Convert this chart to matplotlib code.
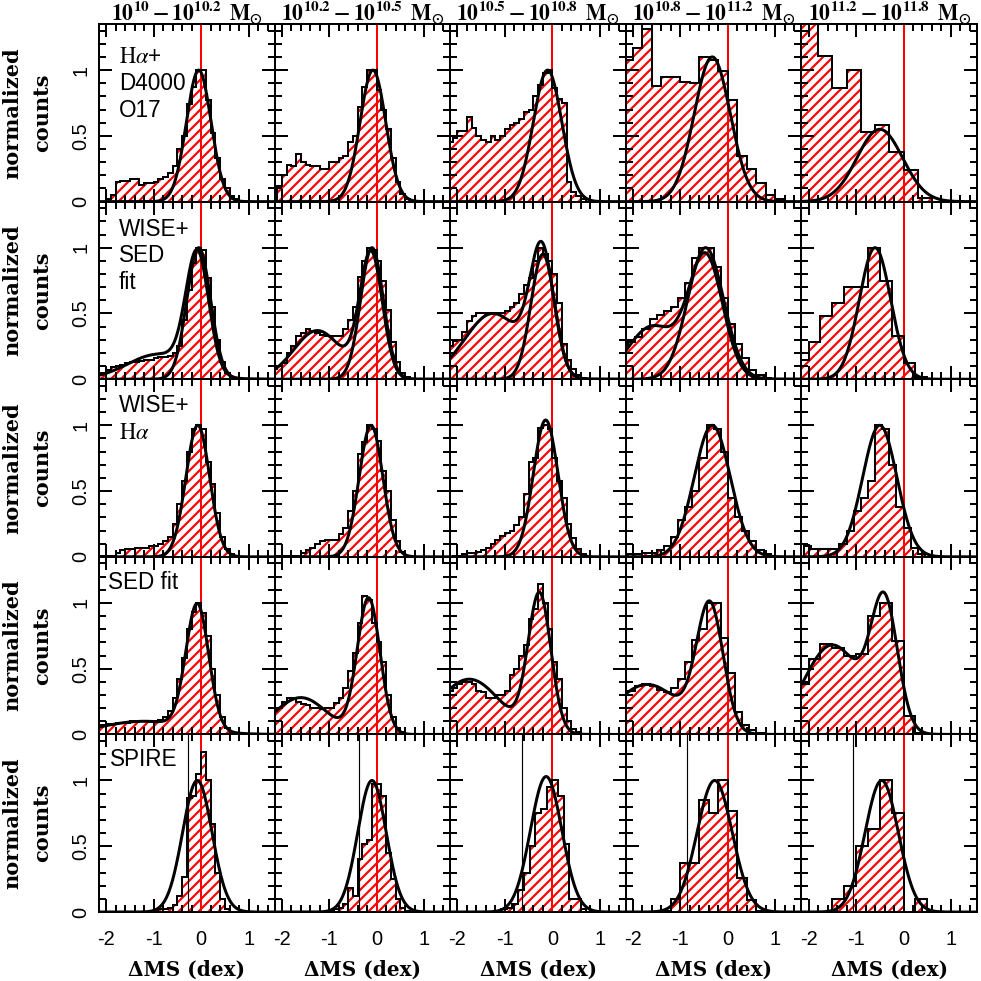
import numpy as np
import matplotlib
matplotlib.use('Agg')
import matplotlib.pyplot as plt
from matplotlib.ticker import MultipleLocator, FormatStrFormatter

plt.rcParams['font.family'] = 'Liberation Sans'
plt.rcParams['mathtext.fontset'] = 'stix'
plt.rcParams['axes.unicode_minus'] = False
plt.rcParams['hatch.linewidth'] = 1.3

# column titles (stellar mass bins) and row labels (SFR indicator)
mass_bins = [r'10^{10}-10^{10.2}', r'10^{10.2}-10^{10.5}', r'10^{10.5}-10^{10.8}',
             r'10^{10.8}-10^{11.2}', r'10^{11.2}-10^{11.8}']
row_labels = ['$\\mathrm{H}\\alpha$+\nD4000\nO17', 'WISE+\nSED\nfit', 'WISE+\n$\\mathrm{H}\\alpha$',
              'SED fit', 'SPIRE']

# first bin edge and bin width of every histogram (rows x cols)
hist_start = [[-2.0, -2.1, -2.2, -2.2, -2.4],
              [-2.2, -2.2, -2.2, -2.25, -2.25],
              [-2.1, -2.1, -2.1, -2.1, -2.1],
              [-2.2, -2.2, -2.2, -2.25, -2.25],
              [-1.0, -1.0, -1.2, -1.4, -1.5]]
hist_width = [[0.1, 0.1, 0.1, 0.2, 0.3],
              [0.1, 0.1, 0.1, 0.15, 0.25],
              [0.1, 0.1, 0.1, 0.15, 0.15],
              [0.1, 0.1, 0.1, 0.15, 0.25],
              [0.1, 0.1, 0.12, 0.2, 0.25]]

# row 1: Halpha + D4000 (O17)
h11 = [0.02, 0.05, 0.15, 0.16, 0.16, 0.17, 0.17, 0.13, 0.14, 0.14, 0.15, 0.17, 0.19, 0.22,
       0.27, 0.4, 0.5, 0.74, 0.87, 1.0, 1.0, 0.77, 0.52, 0.33, 0.17, 0.1, 0.04, 0.02]
h12 = [0.12, 0.2, 0.28, 0.27, 0.36, 0.3, 0.28, 0.27, 0.27, 0.25, 0.25, 0.3, 0.3, 0.33,
       0.35, 0.45, 0.5, 0.72, 0.87, 1.0, 1.0, 0.85, 0.7, 0.55, 0.33, 0.15, 0.06, 0.02]
h13 = [0.45, 0.48, 0.54, 0.54, 0.64, 0.56, 0.5, 0.47, 0.45, 0.5, 0.47, 0.5, 0.55, 0.58,
       0.6, 0.63, 0.68, 0.7, 0.8, 0.89, 0.98, 1.0, 0.86, 0.78, 0.75, 0.15, 0.07, 0.04, 0.02]
h14 = [1.08, 1.17, 1.31, 0.88, 0.95, 0.95, 0.91, 0.9, 1.1, 1.08, 0.99, 0.77, 0.35, 0.25,
       0.14, 0.05, 0.02]
h15 = [1.6, 1.45, 1.11, 0.86, 1.0, 0.53, 0.58, 0.38, 0.24, 0.03]

# row 2: WISE + SED fit
h21 = [0.04, 0.05, 0.07, 0.09, 0.1, 0.11, 0.12, 0.13, 0.13, 0.14, 0.15, 0.15, 0.16, 0.17,
       0.17, 0.18, 0.2, 0.25, 0.45, 0.68, 0.88, 1.0, 0.98, 0.77, 0.55, 0.3, 0.13, 0.05, 0.02, 0.01]
h22 = [0.08, 0.1, 0.12, 0.2, 0.25, 0.33, 0.35, 0.38, 0.37, 0.35, 0.34, 0.33, 0.33, 0.33,
       0.33, 0.38, 0.45, 0.55, 0.78, 0.9, 1.0, 0.98, 0.9, 0.75, 0.53, 0.28, 0.13, 0.05, 0.02]
h23 = [0.25, 0.29, 0.3, 0.36, 0.44, 0.48, 0.5, 0.5, 0.5, 0.5, 0.5, 0.5, 0.52, 0.55,
       0.58, 0.65, 0.72, 0.77, 0.9, 1.0, 0.95, 0.9, 0.8, 0.58, 0.27, 0.15, 0.08, 0.03, 0.01]
h24 = [0.26, 0.28, 0.32, 0.38, 0.46, 0.49, 0.52, 0.55, 0.62, 0.73, 0.92, 1.0, 1.0, 0.85,
       0.62, 0.42, 0.27, 0.16, 0.07, 0.03, 0.01]
h25 = [0.15, 0.28, 0.48, 0.58, 0.7, 0.7, 1.0, 0.75, 0.33, 0.12, 0.02]

# row 3: WISE + Halpha
h31 = [0.01, 0.01, 0.01, 0.03, 0.05, 0.06, 0.06, 0.07, 0.07, 0.07, 0.08, 0.08, 0.1, 0.12,
       0.15, 0.25, 0.4, 0.58, 0.8, 0.97, 1.0, 0.97, 0.72, 0.55, 0.33, 0.15, 0.06, 0.02, 0.01]
h32 = [0.01, 0.01, 0.01, 0.01, 0.01, 0.03, 0.05, 0.07, 0.1, 0.12, 0.13, 0.13, 0.13, 0.17,
       0.22, 0.35, 0.5, 0.78, 0.87, 1.0, 0.97, 0.88, 0.65, 0.5, 0.28, 0.12, 0.04, 0.01]
h33 = [0.01, 0.01, 0.02, 0.03, 0.03, 0.04, 0.05, 0.07, 0.1, 0.13, 0.16, 0.18, 0.2, 0.24,
       0.3, 0.48, 0.72, 0.75, 0.98, 1.0, 0.97, 0.75, 0.58, 0.45, 0.25, 0.14, 0.06, 0.02]
h34 = [0.02, 0.02, 0.03, 0.03, 0.05, 0.08, 0.15, 0.28, 0.38, 0.5, 0.75, 1.0, 0.97, 0.8,
       0.45, 0.3, 0.2, 0.12, 0.05, 0.02]
h35 = [0.08, 0.06, 0.06, 0.06, 0.06, 0.1, 0.2, 0.35, 0.45, 0.58, 1.0, 0.97, 0.7, 0.38,
       0.22, 0.07, 0.02]

# row 4: SED fit
h41 = [0.06, 0.07, 0.08, 0.08, 0.09, 0.09, 0.09, 0.1, 0.1, 0.1, 0.1, 0.1, 0.1, 0.11,
       0.13, 0.18, 0.28, 0.42, 0.58, 0.8, 0.93, 1.0, 0.92, 0.75, 0.5, 0.3, 0.13, 0.05, 0.02]
h42 = [0.18, 0.2, 0.25, 0.28, 0.28, 0.25, 0.23, 0.22, 0.2, 0.2, 0.19, 0.2, 0.2, 0.24,
       0.28, 0.35, 0.48, 0.62, 0.85, 1.05, 1.02, 0.85, 0.7, 0.55, 0.3, 0.13, 0.05, 0.02]
h43 = [0.33, 0.35, 0.38, 0.4, 0.4, 0.38, 0.33, 0.32, 0.28, 0.28, 0.3, 0.3, 0.33, 0.45,
       0.5, 0.6, 0.68, 0.88, 0.95, 1.14, 1.0, 0.8, 0.55, 0.42, 0.2, 0.1, 0.04, 0.02]
h44 = [0.32, 0.33, 0.37, 0.38, 0.37, 0.34, 0.32, 0.35, 0.42, 0.55, 0.72, 0.8, 1.0, 1.0,
       0.73, 0.47, 0.17, 0.07, 0.03, 0.01]
h45 = [0.38, 0.57, 0.69, 0.66, 0.6, 0.61, 0.9, 1.0, 0.71, 0.14, 0.01]

# row 5: SPIRE
h51 = [0.01, 0.02, 0.02, 0.03, 0.05, 0.12, 0.27, 0.87, 0.88, 1.05, 1.22, 1.0, 0.67, 0.3,
       0.1, 0.02]
h52 = [0.01, 0.02, 0.03, 0.06, 0.18, 0.12, 0.4, 0.52, 0.55, 0.97, 0.97, 0.88, 0.45, 0.25,
       0.1, 0.03, 0.01]
h53 = [0.01, 0.02, 0.03, 0.06, 0.17, 0.3, 0.5, 0.75, 0.78, 0.95, 1.0, 0.88, 0.52, 0.1,
       0.1, 0.02]
h54 = [0.01, 0.1, 0.37, 0.37, 0.85, 0.75, 1.0, 0.77, 0.26, 0.09, 0.01]
h55 = [0.1, 0.2, 0.5, 0.63, 1.0, 0.75, 0.0, 0.1]
spire_limit = [-0.28, -0.38, -0.64, -0.87, -1.07]

# gaussian fits: per panel a list of curves, each curve a list of (amp, mean, sigma)
fit1 = [[[(1.0, -0.05, 0.26)]],
        [[(1.0, -0.08, 0.27)]],
        [[(1.0, -0.1, 0.3)]],
        [[(1.1, -0.33, 0.38)]],
        [[(0.55, -0.5, 0.48)]]]
fit2 = [[[(0.9, -0.08, 0.24), (0.19, -0.9, 0.65)], [(1.0, -0.05, 0.25)]],
        [[(0.95, -0.12, 0.24), (0.37, -1.25, 0.5)], [(1.0, -0.1, 0.24)]],
        [[(0.93, -0.22, 0.25), (0.5, -1.25, 0.6)], [(0.95, -0.2, 0.25)]],
        [[(0.93, -0.47, 0.36), (0.4, -1.6, 0.5)], [(1.0, -0.47, 0.38)]],
        [[(1.0, -0.6, 0.33)]]]
fit3 = [[[(1.0, -0.07, 0.25)]],
        [[(1.0, -0.12, 0.25)]],
        [[(1.04, -0.14, 0.26)]],
        [[(1.0, -0.33, 0.38)]],
        [[(1.0, -0.5, 0.36)]]]
fit4 = [[[(0.95, -0.08, 0.24), (0.1, -1.2, 0.9)]],
        [[(1.03, -0.17, 0.24), (0.28, -1.6, 0.55)]],
        [[(1.05, -0.27, 0.24), (0.42, -1.75, 0.65)]],
        [[(0.95, -0.38, 0.28), (0.38, -1.7, 0.7)]],
        [[(0.95, -0.4, 0.28), (0.68, -1.5, 0.6)]]]
fit5 = [[[(1.0, -0.08, 0.31)]],
        [[(1.0, -0.1, 0.3)]],
        [[(1.03, -0.13, 0.33)]],
        [[(1.0, -0.28, 0.37)]],
        [[(1.0, -0.46, 0.35)]]]

hists = [[h11, h12, h13, h14, h15], [h21, h22, h23, h24, h25], [h31, h32, h33, h34, h35],
         [h41, h42, h43, h44, h45], [h51, h52, h53, h54, h55]]
fits = [fit1, fit2, fit3, fit4, fit5]

label_x = [0.114, 0.114, 0.114, 0.05, 0.063]
label_y = [0.88, 0.91, 0.915, 0.92, 0.925]


def gauss(x, comps):
    y = np.zeros_like(x)
    for a, m, s in comps:
        y += a * np.exp(-0.5 * ((x - m) / s) ** 2)
    return y


fig, axes = plt.subplots(5, 5, figsize=(981 / 120, 981 / 120), dpi=120, sharex=True, sharey=True)
fig.subplots_adjust(left=0.101, right=0.996, top=0.9755, bottom=0.0703, wspace=0, hspace=0)

xs = np.linspace(-2.15, 1.55, 500)

for r in range(5):
    for c in range(5):
        ax = axes[r, c]
        vals = np.array(hists[r][c])
        edges = hist_start[r][c] + hist_width[r][c] * np.arange(len(vals) + 1)
        # red hatched area + black outline
        ax.stairs(vals, edges, fill=True, facecolor='none', edgecolor='red', hatch='////',
                  linewidth=0, zorder=1)
        ax.axvline(0, color='red', lw=1.2, zorder=2)
        ax.stairs(vals, edges, baseline=0, color='black', lw=1.2, zorder=3)
        if r == 4:
            ax.axvline(spire_limit[c], color='black', lw=0.7, zorder=3)
        for comps in fits[r][c]:
            ax.plot(xs, gauss(xs, comps), color='black', lw=1.8, zorder=4)

        ax.set_xlim(-2.15, 1.55)
        ax.set_ylim(0, 1.35)
        ax.xaxis.set_major_locator(MultipleLocator(1))
        ax.xaxis.set_minor_locator(MultipleLocator(0.2))
        ax.yaxis.set_major_locator(MultipleLocator(0.5))
        ax.yaxis.set_minor_locator(MultipleLocator(0.1))
        ax.xaxis.set_major_formatter(FormatStrFormatter('%g'))
        ax.yaxis.set_major_formatter(FormatStrFormatter('%g'))
        ax.tick_params(which='both', direction='in', top=True, right=True, width=1.2,
                       labelsize=12)
        ax.tick_params(which='major', length=8)
        ax.tick_params(which='minor', length=4.2)
        ax.tick_params(axis='x', pad=11)
        ax.tick_params(axis='y', pad=5, labelrotation=90)
        for sp in ax.spines.values():
            sp.set_linewidth(1.2)

        if r == 0:
            ax.text(0.5, 1.02, r'$\mathbf{' + mass_bins[c] + r'}\enspace\mathbf{M_{\odot}}$',
                    transform=ax.transAxes, ha='center', va='baseline', fontsize=13)
        if c == 0:
            ax.text(label_x[r], label_y[r], row_labels[r], transform=ax.transAxes,
                    ha='left', va='top', fontsize=13.5, linespacing=1.2)
            for t in ax.get_yticklabels():
                t.set_verticalalignment('center')
        if r == 4:
            ax.set_xlabel('ΔMS (dex)', family='DejaVu Serif', fontweight='bold',
                          fontsize=12, labelpad=6)

for r in range(5):
    pos = axes[r, 0].get_position()
    fig.text(27 / 981, (pos.y0 + pos.y1) / 2, 'normalized\ncounts', rotation=90,
             ha='center', va='center', family='DejaVu Serif', fontweight='bold',
             fontsize=12.5, linespacing=1.6, multialignment='center')

fig.savefig('out.png', dpi=120)
